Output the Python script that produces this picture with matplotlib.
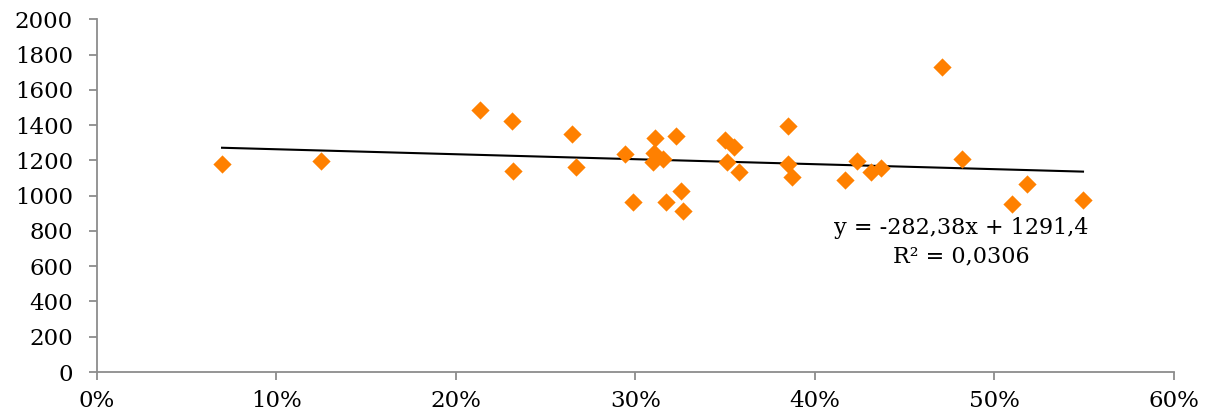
import matplotlib
matplotlib.use("Agg")
import matplotlib.pyplot as plt
from matplotlib.ticker import FuncFormatter
import numpy as np

# Data (share as fraction, value)
share = [0.0699, 0.1250, 0.2135, 0.2313, 0.2319, 0.2647, 0.2670, 0.2943, 0.2987,
         0.3110, 0.3104, 0.3097, 0.3153, 0.3171, 0.3227, 0.3255, 0.3266, 0.3499,
         0.3551, 0.3509, 0.3579, 0.3852, 0.3852, 0.3871, 0.4168, 0.4233, 0.4311,
         0.4367, 0.4708, 0.4819, 0.5098, 0.5181, 0.5493]
value = [1180, 1197, 1486, 1423, 1140, 1350, 1162, 1234, 964,
         1329, 1242, 1192, 1206, 966, 1338, 1026, 915, 1316,
         1278, 1189, 1136, 1395, 1180, 1108, 1089, 1197, 1132,
         1158, 1730, 1208, 953, 1066, 975]
slope = -282.38
intercept = 1291.4
eq_text = "y = -282,38x + 1291,4"
r2_text = "R² = 0,0306"
x_ticks = [0, 0.1, 0.2, 0.3, 0.4, 0.5, 0.6]
y_ticks = list(range(0, 2001, 200))

plt.rcParams['font.family'] = ['DejaVu Serif']
fig = plt.figure(figsize=(12.08, 4.17), dpi=100)
ax = fig.add_axes([0.0799, 0.1079, 0.8920, 0.8458])

ax.scatter(share, value, marker='D', s=9.3**2, color='#FF8000', linewidths=0, zorder=3)

xs = np.array([min(share), max(share)])
ax.plot(xs, slope * xs + intercept, color='black', linewidth=1.5, zorder=2)

ax.set_xlim(0, 0.6)
ax.set_ylim(0, 2000)
ax.set_xticks(x_ticks)
ax.set_yticks(y_ticks)
ax.xaxis.set_major_formatter(FuncFormatter(lambda v, p: f"{v*100:.0f}%"))

for s in ['top', 'right']:
    ax.spines[s].set_visible(False)
for s in ['left', 'bottom']:
    ax.spines[s].set_color('#8c8c8c')
    ax.spines[s].set_linewidth(1.3)
ax.tick_params(axis='both', direction='out', length=6, width=1.3, color='#8c8c8c',
               labelsize=16.5, labelcolor='black')
ax.tick_params(axis='x', pad=7)
ax.tick_params(axis='y', pad=11)

ax.text(0.4813, 816, eq_text, ha='center', va='center', fontsize=16)
ax.text(0.4813, 658, r2_text, ha='center', va='center', fontsize=16)

fig.savefig("out.png", dpi=100)
